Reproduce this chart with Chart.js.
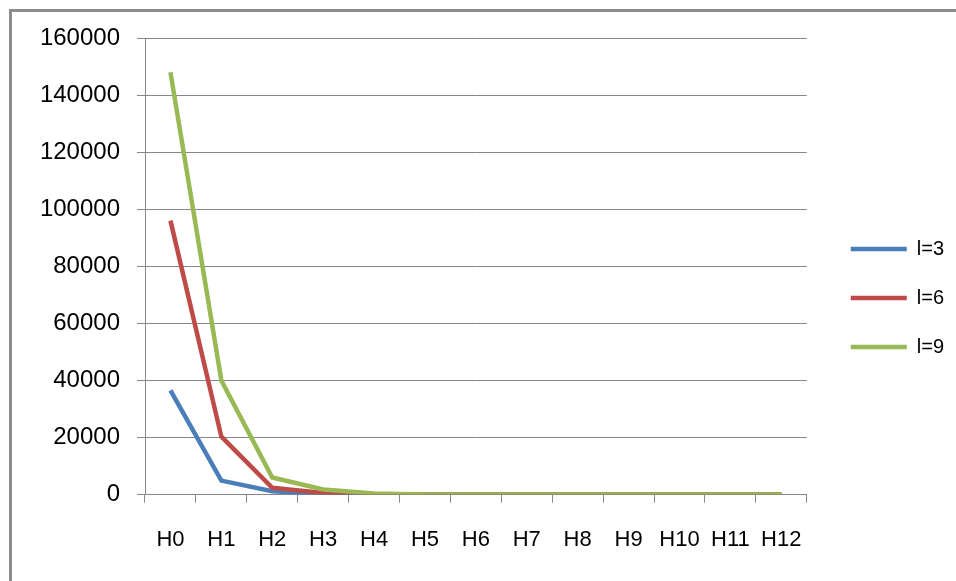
<!DOCTYPE html>
<html>
<head>
<meta charset="utf-8">
<script src="https://cdn.jsdelivr.net/npm/chart.js@4"></script>
<style>
  html, body { margin: 0; padding: 0; background: #fff; overflow: hidden; }
  #frame { position: absolute; left: 9px; top: 9px; width: 1200px; height: 800px;
           border-left: 3px solid #8c8c8c; border-top: 3px solid #8c8c8c; }
  #wrap { position: absolute; left: 0; top: 0; width: 956px; height: 581px; }
</style>
</head>
<body>
<div id="frame"></div>
<div id="wrap"><canvas id="lossChart"></canvas></div>
<script>
// categories and series
let categories = ['H0', 'H1', 'H2', 'H3', 'H4', 'H5', 'H6', 'H7', 'H8', 'H9', 'H10', 'H11', 'H12'];
let l3 = [36500, 4900, 1200, 200, 30, 0, 0, 0, 0, 0, 0, 0, 0];
let l6 = [96000, 20300, 2400, 600, 100, 0, 0, 0, 0, 0, 0, 0, 0];
let l9 = [148000, 40000, 6000, 1800, 400, 50, 0, 0, 0, 0, 0, 0, 0];
let yTicks = [0, 20000, 40000, 60000, 80000, 100000, 120000, 140000, 160000];

let ctx = document.getElementById('lossChart').getContext('2d');

// later series are drawn on top, like in the original
function series(label, data, color, order) {
  return {
    label: label,
    data: data,
    order: order,
    borderColor: color,
    backgroundColor: color,
    borderWidth: 4.5,
    pointRadius: 0,
    tension: 0,
    fill: false
  };
}

let lossChart = new Chart(ctx, {
  type: 'line',
  data: {
    labels: categories,
    datasets: [
      series('l=3', l3, '#4a7ebb', 2),
      series('l=6', l6, '#be4b48', 1),
      series('l=9', l9, '#98b954', 0)
    ]
  },
  options: {
    responsive: true,
    maintainAspectRatio: false,
    animation: false,
    layout: {
      padding: { left: 20, top: 19, right: 2, bottom: 4 }
    },
    plugins: {
      tooltip: { enabled: false },
      // blank title only used as a spacer above the plot (not above the legend)
      title: {
        display: true,
        text: ' ',
        fullSize: false,
        font: { size: 10, lineHeight: 1 },
        padding: { top: 9, bottom: 0 }
      },
      legend: {
        position: 'right',
        labels: {
          usePointStyle: true,
          pointStyle: 'line',
          pointStyleWidth: 56,
          padding: 29,
          color: '#000',
          font: { family: 'Liberation Sans', size: 20 },
          sort: (a, b) => a.datasetIndex - b.datasetIndex
        }
      }
    },
    scales: {
      x: {
        offset: true,
        grid: { offset: true, drawOnChartArea: false, color: '#868686', tickLength: 8 },
        border: { color: '#868686' },
        ticks: { color: '#000', padding: 24, maxRotation: 0, autoSkip: false,
                 font: { family: 'Liberation Sans', size: 22 } }
      },
      y: {
        min: 0,
        max: 160000,
        afterFit: function (s) { s.width = 125; },
        afterBuildTicks: function (s) { s.ticks = yTicks.map(v => ({ value: v })); },
        grid: { color: '#868686', tickLength: 8 },
        border: { color: '#868686' },
        ticks: { color: '#000', padding: 17, font: { family: 'Liberation Sans', size: 24 },
                 callback: v => String(v) }
      },
      // empty spacer between the plot and the legend
      gap: {
        position: 'right',
        axis: 'y',
        type: 'linear',
        afterFit: function (s) { s.width = 15; },
        grid: { display: false },
        border: { display: false },
        ticks: { display: false }
      }
    }
  }
});
</script>
</body>
</html>
